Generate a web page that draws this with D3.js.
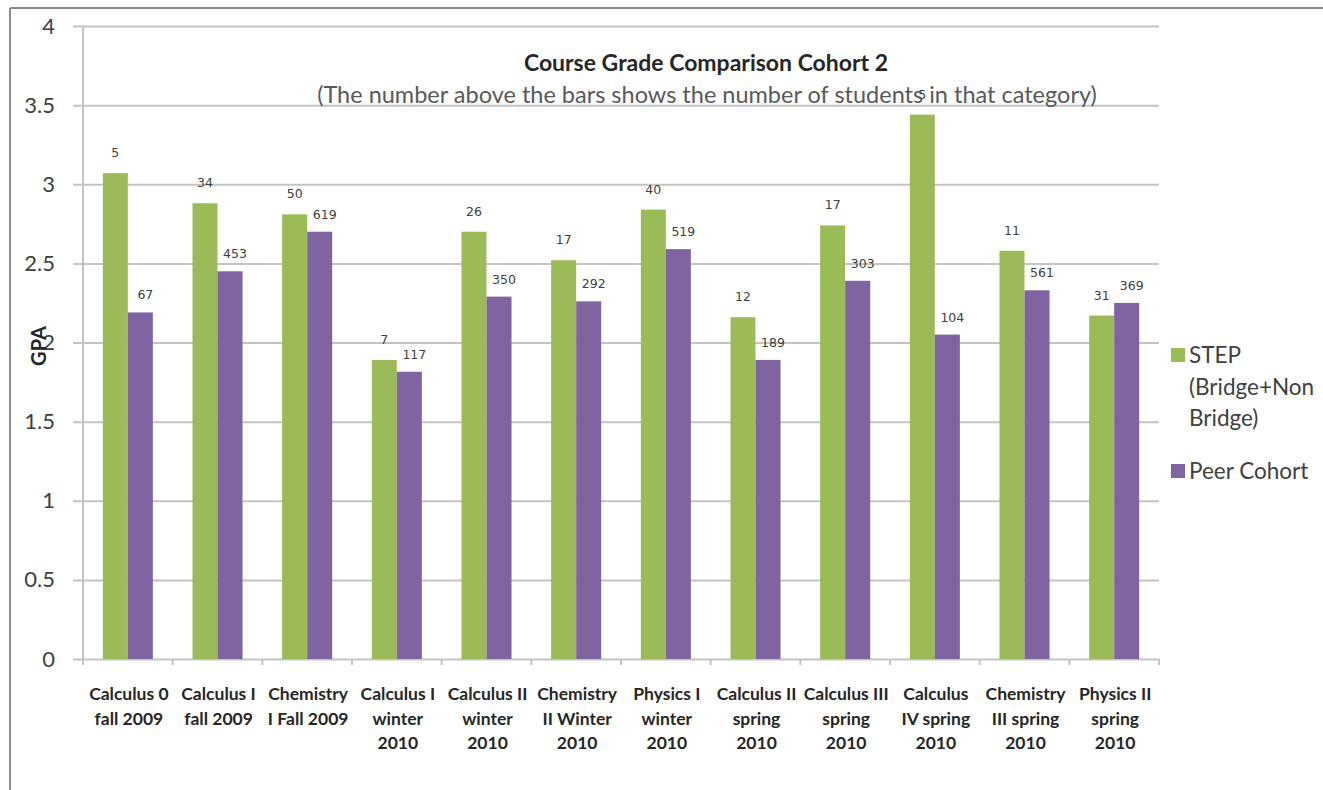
<!DOCTYPE html>
<html>
<head>
<meta charset="utf-8">
<script src="https://cdn.jsdelivr.net/npm/d3@7"></script>
<style>
  body { margin: 0; background: #fff; }
  svg { display: block; }
</style>
</head>
<body>
<svg id="chart" width="1323" height="790"></svg>
<script>
const categories = [
  "Calculus 0|fall 2009", "Calculus I|fall 2009", "Chemistry|I Fall 2009",
  "Calculus I|winter|2010", "Calculus II|winter|2010", "Chemistry|II Winter|2010",
  "Physics I|winter|2010", "Calculus II|spring|2010", "Calculus III|spring|2010",
  "Calculus|IV spring|2010", "Chemistry|III spring|2010", "Physics II|spring|2010"
];
const seriesNames = ["STEP (Bridge+Non Bridge)", "Peer Cohort"];
const stepGpa = [3.07, 2.88, 2.81, 1.89, 2.70, 2.52, 2.84, 2.16, 2.74, 3.44, 2.58, 2.17];
const peerGpa = [2.19, 2.45, 2.70, 1.815, 2.29, 2.26, 2.59, 1.89, 2.39, 2.05, 2.33, 2.25];
const stepCount = [5, 34, 50, 7, 26, 17, 40, 12, 17, 5, 11, 31];
const peerCount = [67, 453, 619, 117, 350, 292, 519, 189, 303, 104, 561, 369];
const yTicks = [0, 0.5, 1, 1.5, 2, 2.5, 3, 3.5, 4];

const colors = ["#9bbb59", "#8064a2"];
const font = "Lato, 'Open Sans', sans-serif";

const svg = d3.select("#chart");
const plotLeft = 83, plotRight = 1159, plotTop = 26, plotBottom = 659;

// frame (top + left edges only)
svg.append("line").attr("x1", 10).attr("x2", 1323).attr("y1", 8).attr("y2", 8)
  .attr("stroke", "#8c8c8c").attr("stroke-width", 2);
svg.append("line").attr("x1", 10).attr("x2", 10).attr("y1", 8).attr("y2", 790)
  .attr("stroke", "#8c8c8c").attr("stroke-width", 2);

const y = d3.scaleLinear().domain([0, 4]).range([plotBottom, plotTop]);
const x0 = d3.scaleBand().domain(categories).range([plotLeft, plotRight])
  .paddingInner(0.442).paddingOuter(0.221);
const x1 = d3.scaleBand().domain([0, 1]).range([0, x0.bandwidth()]);

// grid + y axis
const yAxis = svg.append("g")
  .attr("transform", `translate(${plotLeft - 10},0)`)
  .call(d3.axisLeft(y).tickValues(yTicks).tickSize(-(plotRight - plotLeft + 10)).tickPadding(18)
    .tickFormat(d => d));
yAxis.select(".domain").remove();
yAxis.selectAll(".tick line").attr("stroke", "#c4c4c4").attr("stroke-width", 2);
yAxis.selectAll(".tick text")
  .attr("font-family", font).attr("font-size", 22).attr("fill", "#404040");

svg.append("line").attr("x1", plotLeft).attr("x2", plotLeft).attr("y1", plotTop).attr("y2", plotBottom)
  .attr("stroke", "#c4c4c4").attr("stroke-width", 2);

// category boundary ticks
const step = x0.step();
const bounds = categories.map(c => x0(c) - step * x0.paddingInner() / 2);
bounds.push(plotRight);
svg.append("g").selectAll("line").data(bounds).join("line")
  .attr("x1", d => d).attr("x2", d => d)
  .attr("y1", plotBottom).attr("y2", plotBottom + 6)
  .attr("stroke", "#c4c4c4").attr("stroke-width", 2);

// bars
const groups = svg.append("g").selectAll("g").data(categories).join("g")
  .attr("transform", d => `translate(${x0(d)},0)`);

groups.append("rect")
  .attr("x", x1(0)).attr("width", x1.bandwidth())
  .attr("y", (d, i) => y(stepGpa[i])).attr("height", (d, i) => plotBottom - y(stepGpa[i]))
  .attr("fill", colors[0]);
groups.append("rect")
  .attr("x", x1(1)).attr("width", x1.bandwidth())
  .attr("y", (d, i) => y(peerGpa[i])).attr("height", (d, i) => plotBottom - y(peerGpa[i]))
  .attr("fill", colors[1]);

// count labels
groups.append("text")
  .attr("x", x1(0) + x1.bandwidth() / 2)
  .attr("y", (d, i) => y(stepGpa[i]) - 16)
  .attr("text-anchor", "middle")
  .attr("font-family", "'DejaVu Sans', sans-serif").attr("font-size", 12.5).attr("fill", "#404040")
  .text((d, i) => stepCount[i]);
groups.append("text")
  .attr("x", x1(1) + x1.bandwidth() / 2 + 5)
  .attr("y", (d, i) => y(peerGpa[i]) - 13)
  .attr("text-anchor", "middle")
  .attr("font-family", "'DejaVu Sans', sans-serif").attr("font-size", 12.5).attr("fill", "#404040")
  .text((d, i) => peerCount[i]);

// x labels
groups.append("text")
  .attr("text-anchor", "middle")
  .attr("font-family", font).attr("font-weight", "bold").attr("font-size", 17.5)
  .attr("fill", "#262626")
  .each(function(d) {
    const t = d3.select(this);
    d.split("|").forEach((line, k) => {
      t.append("tspan").attr("x", x0.bandwidth() / 2 + 1).attr("y", 700 + k * 24.5).text(line);
    });
  });

// axis title
svg.append("text")
  .attr("transform", "translate(46,346) rotate(-90)")
  .attr("text-anchor", "middle")
  .attr("font-family", font).attr("font-weight", "bold").attr("font-size", 20)
  .attr("fill", "#262626")
  .text("GPA");

// chart title
svg.append("text")
  .attr("x", 706).attr("y", 71)
  .attr("text-anchor", "middle")
  .attr("font-family", font).attr("font-weight", "bold").attr("font-size", 23)
  .attr("fill", "#262626")
  .text("Course Grade Comparison Cohort 2");
svg.append("text")
  .attr("x", 707).attr("y", 103)
  .attr("text-anchor", "middle")
  .attr("font-family", font).attr("font-size", 23.5)
  .attr("fill", "#595959")
  .text("(The number above the bars shows the number of students in that category)");

// legend
const legendLines = [["STEP", "(Bridge+Non", "Bridge)"], ["Peer Cohort"]];
const legendY = [355, 471];
const legend = svg.append("g").selectAll("g").data(seriesNames).join("g")
  .attr("transform", (d, i) => `translate(1171,${legendY[i]})`);
legend.append("rect").attr("x", 0).attr("y", -7).attr("width", 14).attr("height", 14)
  .attr("fill", (d, i) => colors[i]);
legend.append("text")
  .attr("font-family", font).attr("font-size", 22.5).attr("fill", "#404040")
  .each(function(d, i) {
    const t = d3.select(this);
    legendLines[i].forEach((line, k) => {
      t.append("tspan").attr("x", 18).attr("y", 8 + k * 31.5).text(line);
    });
  });
</script>
</body>
</html>
